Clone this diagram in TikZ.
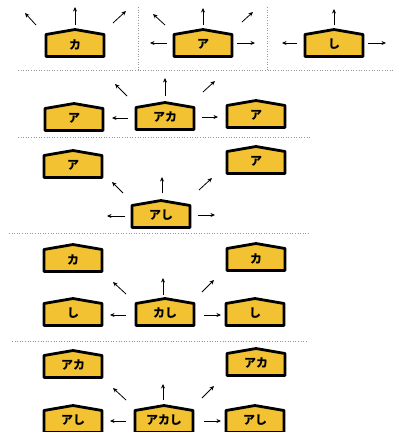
\documentclass[tikz,border=0pt]{standalone}
\usepackage{fontspec}
\newfontfamily\cjk{Noto Sans CJK JP}
\usetikzlibrary{arrows.meta}
\definecolor{piecefill}{RGB}{242,194,50}
\definecolor{sepgray}{RGB}{150,150,150}
\tikzset{
  piecebox/.style={draw=black, line width=2.8pt, line join=round, fill=piecefill},
  piecetext/.style={font=\cjk\bfseries\fontsize{12}{12}\selectfont, inner sep=0pt},
  mv/.style={line width=0.8pt, -{Stealth[length=4.5pt,width=4pt]}},
  sep/.style={draw=sepgray, line width=0.6pt, dotted},
  piece/.pic={
    \draw[piecebox] (-29,6.5) -- (0,1.5) -- (29,6.5) -- (29,28.5) -- (-29,28.5) -- cycle;
    \node[piecetext] (-t) at (0,16.5) {#1};
  }
}
\begin{document}
\begin{tikzpicture}[x=1pt,y=-1pt]
\useasboundingbox (0,0) rectangle (395,432);

% separators
\draw[sep] (138,7) -- (138,70);
\draw[sep] (267,7) -- (267,70);
\draw[sep] (18,70) -- (394,70);
\draw[sep] (18,137) -- (310,137);
\draw[sep] (9,233) -- (309,233);
\draw[sep] (12,341) -- (307,341);

% row 1
\pic (k1) at (75,28) {piece=カ};
\pic (a1) at (203,28) {piece=ア};
\pic (s1) at (334,28) {piece=し};
\draw[mv] (75,25) -- (75,7);
\draw[mv] (36,25) -- (25,13);
\draw[mv] (113,23) -- (126,11);
\draw[mv] (203,25) -- (203,8);
\draw[mv] (165,25) -- (153,14);
\draw[mv] (242,22) -- (253,12);
\draw[mv] (167,43) -- (150,43);
\draw[mv] (237,43) -- (255,43);
\draw[mv] (334,25) -- (334,9);
\draw[mv] (297,43) -- (282,43);
\draw[mv] (368,43) -- (386,43);

% row 2
\pic (a2l) at (74,102) {piece=ア};
\pic (ak2) at (165,101) {piece=アカ};
\pic (a2r) at (256,99) {piece=ア};
\draw[mv] (165,96) -- (165,78);
\draw[mv] (127,96) -- (115,84);
\draw[mv] (203,92) -- (215,81);
\draw[mv] (128,118) -- (112,118);
\draw[mv] (202,117) -- (218,117);

% row 3
\pic (a3l) at (73,149) {piece=ア};
\pic (a3r) at (256,145) {piece=ア};
\pic (as3) at (161,199) {piece=アし};
\draw[mv] (162,193) -- (162,177);
\draw[mv] (123,193) -- (112,182);
\draw[mv] (199,190) -- (212,178);
\draw[mv] (125,216) -- (107,216);
\draw[mv] (198,215) -- (215,215);

% row 4
\pic (k4l) at (73,243) {piece=カ};
\pic (k4r) at (256,242) {piece=カ};
\pic (s4l) at (73,297) {piece=し};
\pic (ks4) at (165,297) {piece=カし};
\pic (s4r) at (255,297) {piece=し};
\draw[mv] (163,295) -- (163,278);
\draw[mv] (126,294) -- (113,282);
\draw[mv] (202,292) -- (214,280);
\draw[mv] (126,315) -- (110,315);
\draw[mv] (204,315) -- (221,315);

% row 5
\pic (ak5l) at (73,349) {piece=アカ};
\pic (ak5r) at (256,347) {piece=アカ};
\pic (as5l) at (73,404) {piece=アし};
\pic (aks5) at (164,404) {piece=アカし};
\pic (as5r) at (255,404) {piece=アし};
\draw[mv] (163,400) -- (163,384);
\draw[mv] (126,400) -- (113,388);
\draw[mv] (202,398) -- (214,386);
\draw[mv] (126,421) -- (110,421);
\draw[mv] (204,421) -- (221,421);
\end{tikzpicture}
\end{document}
